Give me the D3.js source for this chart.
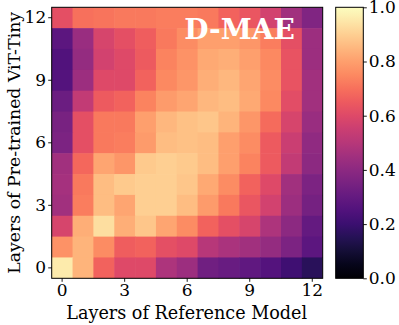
<!DOCTYPE html>
<html>
<head>
<meta charset="utf-8">
<script src="https://cdn.jsdelivr.net/npm/d3@7"></script>
<style>
  body { margin: 0; background: #fff; }
  text { font-family: "DejaVu Serif", serif; fill: #000; }
</style>
</head>
<body>
<svg id="chart" width="399" height="325"></svg>
<script>
// Layer similarity heatmap (D-MAE) — magma colour map

const layers = d3.range(13);
const tickLayers = [0, 3, 6, 9, 12];
const cbarTicks = [0, 0.2, 0.4, 0.6, 0.8, 1.0];

// rows listed bottom (layer 0) to top (layer 12), columns = reference layers 0..12
const row0  = [0.96, 0.84, 0.67, 0.60, 0.60, 0.48, 0.44, 0.33, 0.31, 0.29, 0.26, 0.21, 0.16];
const row1  = [0.77, 0.84, 0.76, 0.66, 0.67, 0.62, 0.60, 0.50, 0.47, 0.45, 0.42, 0.36, 0.28];
const row2  = [0.58, 0.83, 0.93, 0.83, 0.88, 0.81, 0.76, 0.67, 0.62, 0.58, 0.48, 0.40, 0.30];
const row3  = [0.45, 0.73, 0.86, 0.81, 0.90, 0.90, 0.86, 0.79, 0.72, 0.64, 0.57, 0.44, 0.34];
const row4  = [0.46, 0.72, 0.86, 0.89, 0.90, 0.90, 0.88, 0.82, 0.76, 0.67, 0.60, 0.45, 0.36];
const row5  = [0.45, 0.68, 0.81, 0.78, 0.89, 0.90, 0.89, 0.86, 0.80, 0.74, 0.65, 0.53, 0.40];
const row6  = [0.36, 0.62, 0.72, 0.73, 0.79, 0.86, 0.87, 0.86, 0.80, 0.76, 0.65, 0.55, 0.41];
const row7  = [0.35, 0.62, 0.72, 0.72, 0.80, 0.85, 0.87, 0.88, 0.84, 0.78, 0.69, 0.58, 0.43];
const row8  = [0.32, 0.53, 0.65, 0.67, 0.74, 0.79, 0.81, 0.85, 0.86, 0.82, 0.75, 0.61, 0.45];
const row9  = [0.26, 0.44, 0.60, 0.60, 0.67, 0.75, 0.78, 0.83, 0.85, 0.81, 0.76, 0.63, 0.45];
const row10 = [0.25, 0.42, 0.57, 0.60, 0.65, 0.74, 0.77, 0.82, 0.83, 0.80, 0.75, 0.63, 0.44];
const row11 = [0.28, 0.43, 0.58, 0.62, 0.66, 0.72, 0.76, 0.80, 0.80, 0.78, 0.73, 0.62, 0.44];
const row12 = [0.62, 0.70, 0.71, 0.72, 0.72, 0.73, 0.73, 0.72, 0.67, 0.64, 0.57, 0.45, 0.37];
const rows = [row0, row1, row2, row3, row4, row5, row6, row7, row8, row9, row10, row11, row12];

const xLabel = 'Layers of Reference Model';
const yLabel = 'Layers of Pre-trained ViT-Tiny';
const title = 'D-MAE';

const PLOT = { left: 51.7, top: 7.3, size: 271 };
const CBAR = { left: 335.7, width: 27.6 };

const svg = d3.select('#chart');
const color = d3.scaleSequential(d3.interpolateMagma).domain([0, 1]);

const x = d3.scaleBand().domain(layers).range([PLOT.left, PLOT.left + PLOT.size]);
const y = d3.scaleBand().domain(layers).range([PLOT.top + PLOT.size, PLOT.top]);

// draw top row first so each cell's small overlap is covered by its neighbour
const cells = [];
rows.forEach((r, i) => r.forEach((v, j) => cells.push({ row: i, col: j, v })));
cells.sort((a, b) => b.row - a.row || a.col - b.col);

svg.append('g')
    .selectAll('rect')
    .data(cells)
    .join('rect')
    .attr('x', d => x(d.col))
    .attr('y', d => y(d.row))
    .attr('width', d => x.bandwidth() + (d.col < 12 ? 0.6 : 0))
    .attr('height', d => y.bandwidth() + (d.row > 0 ? 0.6 : 0))
    .attr('fill', d => color(d.v));

// frame
svg.append('rect')
    .attr('x', PLOT.left).attr('y', PLOT.top)
    .attr('width', PLOT.size).attr('height', PLOT.size)
    .attr('fill', 'none').attr('stroke', '#000').attr('stroke-width', 1);

const styleAxis = g => {
    g.select('.domain').remove();
    g.selectAll('.tick line').attr('stroke', '#000').attr('stroke-width', 0.9);
    g.selectAll('.tick text').attr('font-size', '17px').attr('font-family', '"DejaVu Serif", serif');
};

svg.append('g')
    .attr('transform', `translate(0, ${PLOT.top + PLOT.size})`)
    .call(d3.axisBottom(x).tickValues(tickLayers).tickSize(3.5).tickPadding(2))
    .call(styleAxis);

svg.append('g')
    .attr('transform', `translate(${PLOT.left}, 0)`)
    .call(d3.axisLeft(y).tickValues(tickLayers).tickSize(3.5).tickPadding(2))
    .call(styleAxis);

svg.append('text')
    .attr('x', PLOT.left + PLOT.size / 2 - 0.5)
    .attr('y', 319)
    .attr('text-anchor', 'middle')
    .attr('font-size', '17.6px')
    .text(xLabel);

svg.append('text')
    .attr('transform', `translate(20, ${PLOT.top + PLOT.size / 2}) rotate(-90)`)
    .attr('text-anchor', 'middle')
    .attr('font-size', '17.3px')
    .text(yLabel);

svg.append('text')
    .attr('x', 239.5)
    .attr('y', 39)
    .attr('text-anchor', 'middle')
    .attr('font-family', '"Liberation Serif", serif')
    .attr('font-weight', 'bold')
    .attr('font-size', '28px')
    .style('fill', '#fff')
    .text(title);

// colour bar
const defs = svg.append('defs');
const grad = defs.append('linearGradient')
    .attr('id', 'cbar-grad')
    .attr('x1', 0).attr('y1', 1).attr('x2', 0).attr('y2', 0);
grad.selectAll('stop')
    .data(d3.range(0, 1.001, 0.05))
    .join('stop')
    .attr('offset', d => `${d * 100}%`)
    .attr('stop-color', d => color(d));

svg.append('rect')
    .attr('x', CBAR.left).attr('y', PLOT.top)
    .attr('width', CBAR.width).attr('height', PLOT.size)
    .attr('fill', 'url(#cbar-grad)')
    .attr('stroke', '#000').attr('stroke-width', 1);

const cScale = d3.scaleLinear().domain([0, 1]).range([PLOT.top + PLOT.size, PLOT.top]);
svg.append('g')
    .attr('transform', `translate(${CBAR.left + CBAR.width}, 0)`)
    .call(d3.axisRight(cScale).tickValues(cbarTicks).tickFormat(d3.format('.1f')).tickSize(3.5).tickPadding(2))
    .call(styleAxis);
</script>
</body>
</html>
